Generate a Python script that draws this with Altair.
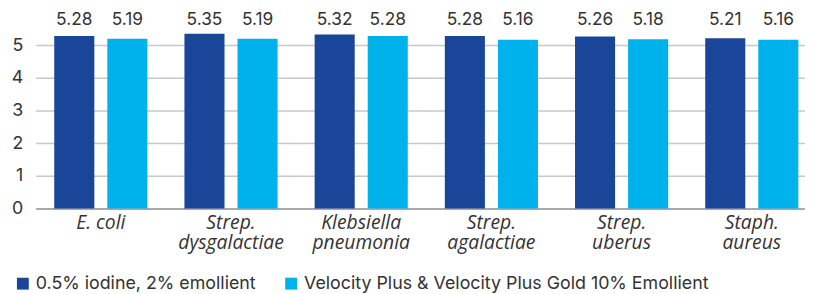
import altair as alt
import pandas as pd

categories = ["E. coli", "Strep. dysgalactiae", "Klebsiella pneumonia",
              "Strep. agalactiae", "Strep. uberus", "Staph. aureus"]
series = ["0.5% iodine, 2% emollient", "Velocity Plus & Velocity Plus Gold 10% Emollient"]
iodine_vals = [5.28, 5.35, 5.32, 5.28, 5.26, 5.21]
velocity_vals = [5.19, 5.19, 5.28, 5.16, 5.18, 5.16]
y_ticks = [0, 1, 2, 3, 4, 5]
colors = ["#1a4699", "#00b2eb"]

rows = []
for c, a, b in zip(categories, iodine_vals, velocity_vals):
    rows.append({"cat": c, "series": series[0], "value": a, "label": f"{a:.2f}"})
    rows.append({"cat": c, "series": series[1], "value": b, "label": f"{b:.2f}"})
df = pd.DataFrame(rows)

x = alt.X("cat:N", sort=categories, title=None,
          scale=alt.Scale(range=[0, 789], paddingInner=0, paddingOuter=0),
          axis=alt.Axis(labelAngle=0, ticks=False, domain=True, domainColor="#a9a9ac",
                        domainWidth=2, labelFont="Open Sans", labelFontStyle="italic",
                        labelFontSize=19.5, labelColor="#333333", labelPadding=5,
                        labelLineHeight=20,
                        labelExpr="datum.label == 'E. coli' ? datum.label : split(datum.label, ' ')"))
xo = alt.XOffset("series:N", sort=series,
                 scale=alt.Scale(paddingInner=0.245, paddingOuter=0.349))

bars = alt.Chart(df).mark_bar().encode(
    x=x, xOffset=xo,
    y=alt.Y("value:Q", title=None, scale=alt.Scale(domain=[0, 6], nice=False),
            axis=alt.Axis(values=y_ticks, ticks=False, domain=False, gridColor="#c8c8cb",
                          gridWidth=1.5, labelFont="Inter", labelFontSize=18,
                          labelColor="#333333", labelPadding=13)),
    color=alt.Color("series:N", sort=series, title=None,
                    scale=alt.Scale(domain=series, range=colors),
                    legend=alt.Legend(orient="none", legendX=-22, legendY=265,
                                      direction="horizontal", symbolType="square",
                                      symbolSize=144, symbolStrokeWidth=0, labelFont="Inter",
                                      labelFontSize=18, labelColor="#333333",
                                      labelOffset=4, columnPadding=26, padding=0,
                                      labelLimit=600)),
)

texts = alt.Chart(df).mark_text(baseline="alphabetic", font="Inter", fontSize=17.5,
                                color="#333333").encode(
    x=x, xOffset=xo, y=alt.value(13), text="label:N")

chart = (bars + texts).properties(
    width=777, height=198,
    autosize=alt.AutoSizeParams(type="none"),
    padding={"left": 28, "top": 3, "right": 0, "bottom": 85},
).configure_view(stroke=None)

chart.save("out.html", embed_options={"renderer": "svg", "actions": False})
